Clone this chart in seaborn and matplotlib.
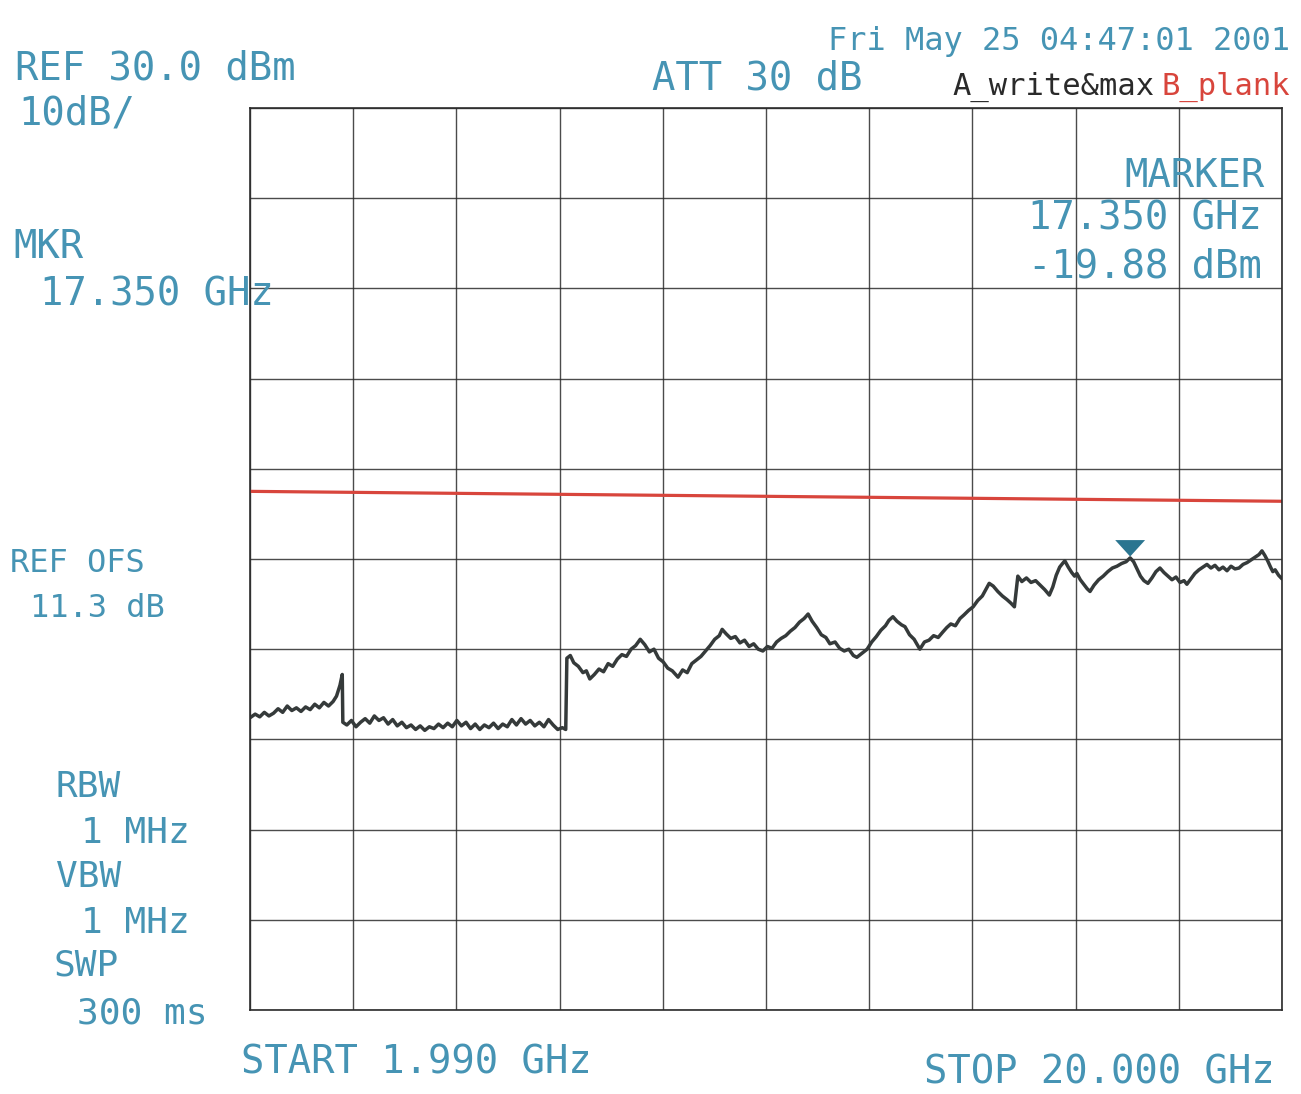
"""Spectrum analyzer screen dump: 1.99 - 20 GHz sweep, REF 30 dBm, 10 dB/div."""

import matplotlib
matplotlib.use("Agg")
import matplotlib.pyplot as plt
from matplotlib.transforms import ScaledTranslation
import numpy as np
import seaborn as sns

W, H = 1301, 1094
TEXT_COLOR = "#4694b4"
TRACE_COLOR = "#353a3a"
LIMIT_COLOR = "#d8453c"
MARKER_COLOR = "#2a7590"

# sweep settings
START_GHZ = 1.99
STOP_GHZ = 20.0
REF_DBM = 30.0
DB_PER_DIV = 10.0
N_DIV = 10

# limit line (B trace)
limit_ghz = [1.99, 20.0]
limit_dbm = [-12.5, -13.6]

# marker
marker_ghz = 17.35
marker_dbm = -19.88

# A trace (write & max), (GHz, dBm)
trace_points = [
    (1.99, -37.6), (2.08, -37.2), (2.16, -37.5), (2.24, -37.0), (2.32, -37.4), (2.40, -37.1),
    (2.48, -36.6), (2.56, -37.0), (2.64, -36.3), (2.72, -36.8), (2.80, -36.5), (2.88, -36.9),
    (2.96, -36.4), (3.04, -36.7), (3.12, -36.1), (3.20, -36.5), (3.28, -35.9), (3.36, -36.3),
    (3.44, -35.8), (3.50, -35.2), (3.56, -34.0), (3.60, -32.8), (3.61, -38.1),
    (3.68, -38.4), (3.76, -37.9), (3.84, -38.6), (3.92, -38.1), (4.00, -37.7), (4.08, -38.2),
    (4.16, -37.4), (4.24, -37.9), (4.32, -37.6), (4.40, -38.3), (4.48, -37.8), (4.56, -38.5),
    (4.64, -38.1), (4.72, -38.7), (4.80, -38.4), (4.88, -38.9), (4.96, -38.5), (5.04, -39.0),
    (5.12, -38.6), (5.20, -38.8), (5.28, -38.3), (5.36, -38.7), (5.44, -38.2), (5.52, -38.6),
    (5.60, -37.9), (5.68, -38.5), (5.76, -38.1), (5.84, -38.8), (5.92, -38.3), (6.00, -38.9),
    (6.08, -38.4), (6.16, -38.7), (6.24, -38.2), (6.32, -38.8), (6.40, -38.3), (6.48, -38.6),
    (6.56, -37.8), (6.64, -38.4), (6.72, -37.7), (6.80, -38.3), (6.88, -37.9), (6.96, -38.5),
    (7.04, -38.1), (7.12, -38.6), (7.20, -37.8), (7.28, -38.4), (7.36, -38.9), (7.44, -38.7),
    (7.50, -38.9), (7.52, -31.0),
    (7.58, -30.7), (7.64, -31.5), (7.72, -31.9), (7.80, -32.6), (7.86, -32.4), (7.92, -33.3),
    (8.00, -32.8), (8.08, -32.2), (8.16, -32.5), (8.24, -31.6), (8.32, -31.9), (8.40, -31.1),
    (8.48, -30.6), (8.56, -30.8), (8.64, -30.0), (8.72, -29.6), (8.80, -28.9), (8.88, -29.5),
    (8.96, -30.3), (9.04, -30.0), (9.12, -31.0), (9.20, -31.4), (9.28, -32.1), (9.36, -32.4),
    (9.46, -33.1), (9.54, -32.3), (9.62, -32.6), (9.70, -31.6), (9.78, -31.2), (9.86, -30.8),
    (9.94, -30.2), (10.02, -29.6), (10.10, -28.9), (10.18, -28.5), (10.23, -27.8), (10.30, -28.3),
    (10.38, -28.8), (10.46, -28.6), (10.54, -29.3), (10.62, -29.0), (10.70, -29.7), (10.78, -29.4),
    (10.86, -30.0), (10.94, -30.2), (11.02, -29.7), (11.10, -29.9), (11.18, -29.2), (11.26, -28.8),
    (11.34, -28.5), (11.42, -28.0), (11.50, -27.6), (11.58, -27.0), (11.66, -26.6), (11.73, -26.1),
    (11.80, -26.9), (11.88, -27.6), (11.96, -28.4), (12.04, -28.7), (12.11, -29.4), (12.20, -29.2),
    (12.28, -29.9), (12.36, -30.2), (12.44, -30.0), (12.52, -30.7), (12.58, -30.9), (12.66, -30.5),
    (12.76, -30.0), (12.84, -29.2), (12.92, -28.6), (13.00, -27.9), (13.08, -27.4), (13.14, -26.8),
    (13.21, -26.4), (13.28, -26.9), (13.36, -27.3), (13.42, -27.5), (13.50, -28.4), (13.58, -28.9),
    (13.68, -30.0), (13.76, -29.2), (13.84, -29.0), (13.92, -28.5), (14.00, -28.7), (14.08, -28.1),
    (14.15, -27.6), (14.22, -27.2), (14.30, -27.4), (14.38, -26.6), (14.45, -26.2), (14.53, -25.7),
    (14.61, -25.3), (14.69, -24.6), (14.77, -24.1), (14.83, -23.4), (14.89, -22.7), (14.96, -23.0),
    (15.04, -23.6), (15.12, -24.1), (15.20, -24.5), (15.27, -24.9), (15.33, -25.3), (15.39, -21.9),
    (15.46, -22.5), (15.54, -22.1), (15.62, -22.6), (15.70, -22.4), (15.78, -22.9), (15.86, -23.4),
    (15.94, -24.0), (16.00, -23.1), (16.06, -21.8), (16.12, -20.9), (16.17, -20.5), (16.21, -20.2),
    (16.27, -20.9), (16.33, -21.5), (16.38, -21.9), (16.42, -21.6), (16.48, -22.3), (16.54, -22.8),
    (16.60, -23.3), (16.65, -23.6), (16.72, -22.9), (16.80, -22.3), (16.88, -21.9), (16.96, -21.4),
    (17.04, -21.0), (17.12, -20.8), (17.20, -20.5), (17.28, -20.3), (17.35, -19.88), (17.41, -20.3),
    (17.47, -21.1), (17.53, -21.9), (17.59, -22.4), (17.66, -22.7), (17.73, -22.1), (17.80, -21.4),
    (17.87, -21.0), (17.94, -21.5), (18.01, -21.9), (18.08, -22.3), (18.15, -22.0), (18.22, -22.6),
    (18.29, -22.4), (18.34, -22.8), (18.41, -22.2), (18.48, -21.6), (18.55, -21.2), (18.62, -20.9),
    (18.69, -20.6), (18.76, -21.0), (18.83, -20.7), (18.90, -21.2), (18.97, -20.9), (19.04, -21.3),
    (19.11, -20.8), (19.18, -21.1), (19.25, -21.0), (19.32, -20.6), (19.39, -20.4), (19.46, -20.1),
    (19.53, -19.8), (19.60, -19.5), (19.65, -19.1), (19.70, -19.6), (19.75, -20.2), (19.80, -20.9),
    (19.84, -21.4), (19.88, -21.2), (19.94, -21.8), (20.00, -22.2),
]
trace_ghz = np.array([p[0] for p in trace_points])
trace_dbm = np.array([p[1] for p in trace_points])

# screen annotations: (text, x px, baseline px, size pt)
left_labels = [
    ("REF 30.0 dBm", 15, 80, 28),
    ("10dB/", 18, 125, 28),
    ("MKR", 13, 258, 28),
    ("17.350 GHz", 40, 305, 28),
    ("REF OFS", 10, 572, 23),
    ("11.3 dB", 30, 617, 23),
    ("RBW", 56, 797, 26),
    ("1 MHz", 81, 843, 26),
    ("VBW", 56, 887, 26),
    ("1 MHz", 81, 933, 26),
    ("SWP", 54, 975, 26),
    ("300 ms", 77, 1023, 26),
    ("START 1.990 GHz", 241, 1073, 28),
    ("ATT 30 dB", 652, 90, 28),
]
right_labels = [
    ("Fri May 25 04:47:01 2001", 1290, 50, 23),
    ("MARKER", 1265, 187, 28),
    ("17.350 GHz", 1262, 230, 28),
    ("-19.88 dBm", 1262, 277, 28),
    ("STOP 20.000 GHz", 1275, 1083, 28),
]

sns.set_style("white")
plt.rcParams["font.family"] = ["DejaVu Sans Mono"]

fig = plt.figure(figsize=(W / 100, H / 100), dpi=100)
fig.patch.set_facecolor("white")
ax = fig.add_axes([250 / W, 1 - 1010 / H, 1032 / W, 902 / H])

bottom_dbm = REF_DBM - N_DIV * DB_PER_DIV
ax.set_xlim(START_GHZ, STOP_GHZ)
ax.set_ylim(bottom_dbm, REF_DBM)
ax.set_xticks(np.linspace(START_GHZ, STOP_GHZ, N_DIV + 1))
ax.set_yticks(np.arange(bottom_dbm, REF_DBM + 1, DB_PER_DIV))
ax.tick_params(length=0, labelbottom=False, labelleft=False)
ax.grid(True, color="#2b2b2b", linewidth=1.0, alpha=0.85)
for sp in ax.spines.values():
    sp.set_visible(True)
    sp.set_color("#2b2b2b")
    sp.set_linewidth(1.2)

# limit line and trace
sns.lineplot(x=limit_ghz, y=limit_dbm, color=LIMIT_COLOR, linewidth=2.3,
             estimator=None, sort=False, ax=ax)
sns.lineplot(x=trace_ghz, y=trace_dbm, color=TRACE_COLOR, linewidth=2.5,
             estimator=None, sort=False, ax=ax)

# marker: flat triangle with its tip on the marked point
tri = [(-1.0, 1.1), (1.0, 1.1), (0.0, 0.0)]
sns.scatterplot(x=[marker_ghz], y=[marker_dbm], marker=tri, s=560,
                color=MARKER_COLOR, edgecolor="none", ax=ax, zorder=5)
mk = ax.collections[-1]
mk.set_offset_transform(ax.transData + ScaledTranslation(0, 1 / 72, fig.dpi_scale_trans))

ax.set_xlabel("")
ax.set_ylabel("")

for s, x, y, size in left_labels:
    fig.text(x / W, 1 - y / H, s, fontsize=size, color=TEXT_COLOR,
             ha="left", va="baseline")
for s, x, y, size in right_labels:
    fig.text(x / W, 1 - y / H, s, fontsize=size, color=TEXT_COLOR,
             ha="right", va="baseline")

# trace legend: A in black, B in red
fig.text(952 / W, 1 - 95 / H, "A_write&max", fontsize=22, color="#2a2a2a",
         ha="left", va="baseline")
fig.text(1290 / W, 1 - 95 / H, "B_plank", fontsize=22, color=LIMIT_COLOR,
         ha="right", va="baseline")

fig.savefig("out.png", dpi=100, facecolor="white")
